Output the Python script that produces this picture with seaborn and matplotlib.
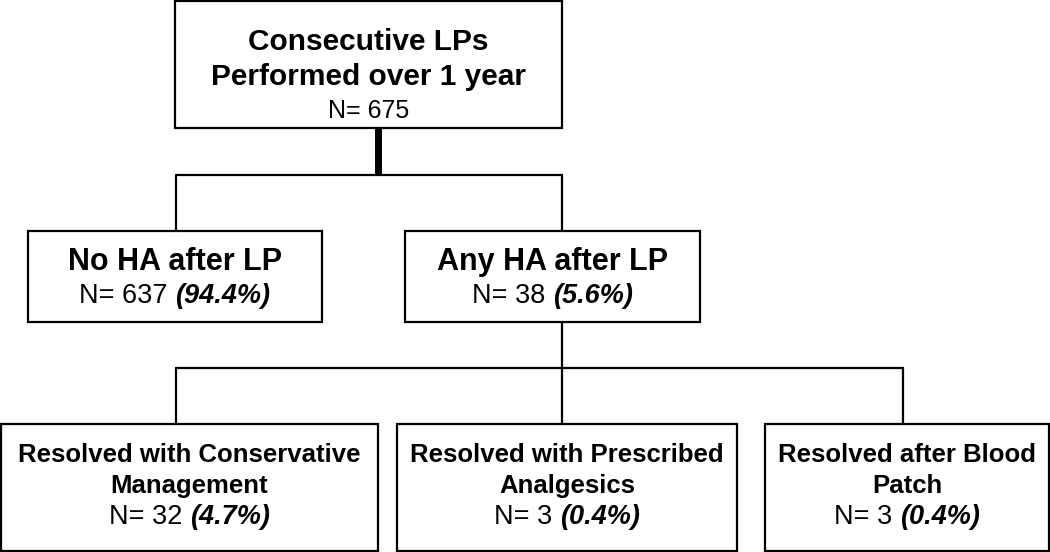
import matplotlib
matplotlib.use("Agg")
import matplotlib.pyplot as plt
from matplotlib.patches import Rectangle
import seaborn as sns

# --- chart content ---
titles = [
    ["Consecutive LPs", "Performed over 1 year"],
    ["No HA after LP"],
    ["Any HA after LP"],
    ["Resolved with Conservative", "Management"],
    ["Resolved with Prescribed", "Analgesics"],
    ["Resolved after Blood", "Patch"],
]
counts = [675, 637, 38, 32, 3, 3]
percents = ["", "94.4%", "5.6%", "4.7%", "0.4%", "0.4%"]

# --- layout (pixels, y down) ---
boxes = [
    (175, 1, 562, 128),
    (28, 231, 322, 322),
    (405, 231, 700, 322),
    (1, 424, 378, 551),
    (397, 424, 737, 551),
    (765, 424, 1049, 551),
]
title_base = [[50, 85], [270], [270], [462, 493], [462, 493], [462, 493]]
n_base = [118, 303, 303, 524, 524, 524]
title_size = [21.5, 22, 22, 18.5, 18.5, 18.5]
n_size = [18, 19.5, 19.5, 19.5, 19.5, 19.5]

sns.set_theme(style="white")
plt.rcParams["font.family"] = ["Liberation Sans", "DejaVu Sans"]
plt.rcParams["text.color"] = "black"

W, H = 1050, 552
fig = plt.figure(figsize=(W / 100, H / 100), dpi=100)
ax = fig.add_axes([0, 0, 1, 1])
ax.set_xlim(0, W)
ax.set_ylim(H, 0)
ax.axis("off")

LW = 1.6

# connectors
ax.plot([378, 378], [128, 175], color="black", lw=5, solid_capstyle="butt")
ax.plot([176, 562], [175, 175], color="black", lw=LW)
ax.plot([176, 176], [175, 231], color="black", lw=LW)
ax.plot([562, 562], [175, 231], color="black", lw=LW)
ax.plot([562, 562], [322, 368], color="black", lw=LW)
ax.plot([176, 903], [368, 368], color="black", lw=LW)
for x in [176, 562, 903]:
    ax.plot([x, x], [368, 424], color="black", lw=LW)

fig.canvas.draw()
renderer = fig.canvas.get_renderer()

for i, (x0, y0, x1, y1) in enumerate(boxes):
    ax.add_patch(Rectangle((x0, y0), x1 - x0, y1 - y0, fill=False,
                           edgecolor="black", lw=LW, clip_on=False))
    cx = (x0 + x1) / 2
    for line, yb in zip(titles[i], title_base[i]):
        ax.text(cx, yb, line, ha="center", va="baseline",
                fontsize=title_size[i], fontweight="bold")

    # "N= xx" regular plus "(pct)" bold italic, centred as one line
    left = f"N= {counts[i]}"
    t1 = ax.text(0, n_base[i], left, ha="left", va="baseline", fontsize=n_size[i])
    if percents[i]:
        t2 = ax.text(0, n_base[i], f"({percents[i]})", ha="left", va="baseline",
                     fontsize=n_size[i], fontweight="bold", fontstyle="italic")
        w1 = t1.get_window_extent(renderer).width
        w2 = t2.get_window_extent(renderer).width
        gap = 0.278 * n_size[i] * 100 / 72
        start = cx - (w1 + gap + w2) / 2
        t1.set_x(start)
        t2.set_x(start + w1 + gap)
    else:
        t1.set_ha("center")
        t1.set_x(cx)

fig.savefig("out.png", dpi=100, facecolor="white")
